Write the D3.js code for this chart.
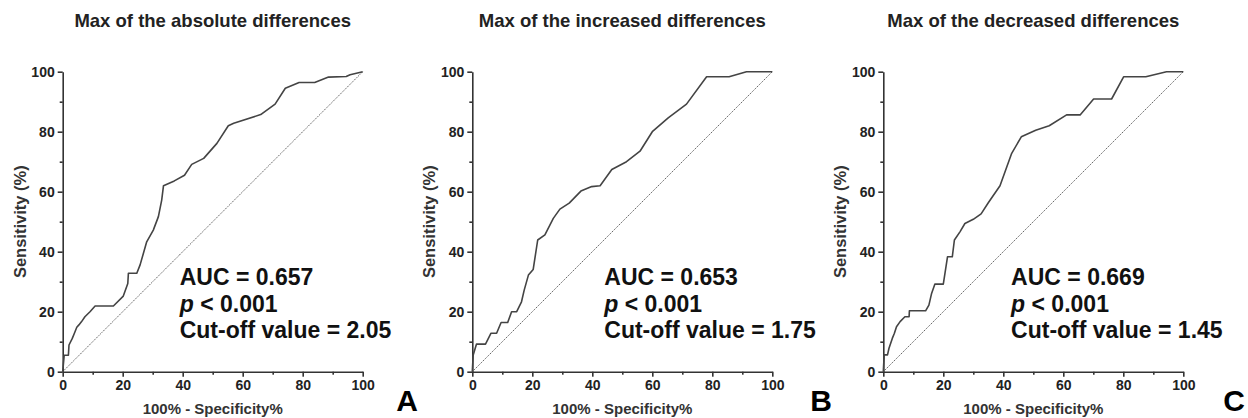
<!DOCTYPE html>
<html>
<head>
<meta charset="utf-8">
<script src="https://cdn.jsdelivr.net/npm/d3@7"></script>
<style>
  body { margin: 0; background: #ffffff; }
  text { font-family: "Liberation Sans", Arial, sans-serif; }
</style>
</head>
<body>
<div id="chart-container"></div>
<script>
const width = 1248;
const height = 418;

// panel texts
const titles = ["Max of the absolute differences", "Max of the increased differences", "Max of the decreased differences"];
const panelLetters = ["A", "B", "C"];
const aucValues = ["0.657", "0.653", "0.669"];
const pValues = ["0.001", "0.001", "0.001"];
const cutoffValues = ["2.05", "1.75", "1.45"];
const majorTicks = [0, 20, 40, 60, 80, 100];
const minorTicks = [10, 30, 50, 70, 90];

// ROC curves: [100% - specificity, sensitivity]
const rocA = [[0, 0], [0.5, 5.5], [1.9, 5.5], [2.1, 8.9], [3.2, 11.1], [3.9, 12.8], [4.7, 14.8], [5.4, 15.6],
  [6.3, 16.7], [7.4, 18.3], [9.1, 20], [10.8, 21.9], [16.9, 21.9], [20.2, 25.2], [21.7, 29.4], [21.9, 32.8],
  [24.7, 32.8], [25.8, 35.6], [28, 43.3], [30.2, 47.2], [31.9, 51.7], [33, 57.2], [33.6, 62], [37.2, 63.6],
  [40.6, 65.5], [43, 69.1], [47, 71.1], [51.4, 76.1], [55.2, 82], [57, 82.8], [66, 85.7], [70.8, 89.2],
  [74.2, 94.5], [78.8, 96.4], [84, 96.4], [88.6, 98.2], [94.5, 98.4], [95.8, 99], [100, 100]];

const rocB = [[0, 0], [0.3, 5.6], [1.4, 9.2], [4.4, 9.2], [6.2, 12.8], [8.1, 12.8], [9.6, 16.4], [11.8, 16.4],
  [13.1, 20], [14.8, 20], [16.4, 23.3], [17.3, 27.2], [18.7, 32.2], [20.3, 34.1], [21.8, 43.9], [24.2, 45.6],
  [27, 51.1], [29.2, 54.2], [32.3, 56.2], [36.2, 60.2], [39.8, 61.7], [42.6, 62], [46.5, 67.4], [51.4, 70],
  [55.9, 73.5], [60, 80], [65.3, 84.6], [71.4, 89.2], [78.1, 98.3], [85.6, 98.3], [91.4, 100], [100, 100]];

const rocC = [[0, 0], [0.3, 5.6], [1.4, 5.6], [1.9, 7.8], [3, 11.1], [3.7, 12.8], [4.4, 15], [5.6, 16.7],
  [7.2, 18.3], [8.6, 18.3], [8.7, 20.3], [14.1, 20.3], [15.2, 22.2], [16.1, 26.1], [17.2, 29.2], [20, 29.2],
  [21.4, 38.3], [23, 38.3], [23.7, 43.9], [25.6, 46.7], [27.2, 49.4], [30, 50.8], [32.6, 52.6], [35, 56.3],
  [38.9, 62], [42.8, 72.8], [46, 78.3], [50.8, 80.5], [55.3, 82], [61.1, 85.6], [65.6, 85.6], [70.1, 90.9],
  [76.1, 90.9], [80.1, 98.3], [87.5, 98.3], [94.4, 100], [100, 100]];

const curves = [rocA, rocB, rocC];

// layout
const panelLeft = [62.7, 472.3, 883.3];
const plotTop = 71.7;
const plotSize = 300;
const statsX = [39, 44, 42.6];
const letterX = [407, 821, 1234];

const svg = d3.select("#chart-container")
    .append("svg")
    .attr("width", width)
    .attr("height", height)
    .style("background-color", "#ffffff");

function drawPanel(i) {
    const g = svg.append("g")
        .attr("transform", `translate(${panelLeft[i]}, ${plotTop})`);

    const x = d3.scaleLinear().domain([0, 100]).range([0, plotSize]);
    const y = d3.scaleLinear().domain([0, 100]).range([plotSize, 0]);

    // minor ticks first, main axis on top
    g.append("g")
        .attr("transform", `translate(0, ${plotSize})`)
        .call(d3.axisBottom(x).tickValues(minorTicks).tickSize(3).tickFormat(""))
        .call(a => a.select(".domain").remove());
    g.append("g")
        .call(d3.axisLeft(y).tickValues(minorTicks).tickSize(3).tickFormat(""))
        .call(a => a.select(".domain").remove());

    const xAxis = g.append("g")
        .attr("transform", `translate(0, ${plotSize})`)
        .call(d3.axisBottom(x).tickValues(majorTicks).tickSize(5).tickSizeOuter(0).tickPadding(3));
    const yAxis = g.append("g")
        .call(d3.axisLeft(y).tickValues(majorTicks).tickSize(5).tickSizeOuter(0).tickPadding(3));

    [xAxis, yAxis].forEach(a => {
        a.selectAll("path, line").attr("stroke", "#333").attr("stroke-width", 1.6);
        a.selectAll("text")
            .attr("fill", "#222")
            .style("font-size", "14px")
            .style("font-weight", "bold");
    });
    g.selectAll(".tick line").attr("stroke", "#333").attr("stroke-width", 1.6);

    // chance line
    g.append("line")
        .attr("x1", x(0)).attr("y1", y(0))
        .attr("x2", x(100)).attr("y2", y(100))
        .attr("stroke", "#555")
        .attr("stroke-width", 0.9)
        .attr("stroke-dasharray", "1.5,1");

    // ROC curve
    g.append("path")
        .datum(curves[i])
        .attr("fill", "none")
        .attr("stroke", "#444")
        .attr("stroke-width", 1.6)
        .attr("stroke-linejoin", "round")
        .attr("d", d3.line().x(d => x(d[0])).y(d => y(d[1])));

    // title
    svg.append("text")
        .attr("x", panelLeft[i] + plotSize / 2)
        .attr("y", 27)
        .attr("text-anchor", "middle")
        .attr("fill", "#222")
        .style("font-size", "18.5px")
        .style("font-weight", "bold")
        .text(titles[i]);

    // axis titles
    g.append("text")
        .attr("x", plotSize / 2)
        .attr("y", plotSize + 42)
        .attr("text-anchor", "middle")
        .attr("fill", "#333")
        .style("font-size", "15px")
        .style("font-weight", "bold")
        .text("100% - Specificity%");

    g.append("text")
        .attr("transform", `translate(-37, ${plotSize / 2}) rotate(-90)`)
        .attr("text-anchor", "middle")
        .attr("fill", "#333")
        .style("font-size", "16.5px")
        .style("font-weight", "bold")
        .text("Sensitivity (%)");

    // statistics
    const stats = g.append("text")
        .attr("x", x(statsX[i]))
        .attr("fill", "#111")
        .style("font-size", "23px")
        .style("font-weight", "bold");
    stats.append("tspan").attr("x", x(statsX[i])).attr("y", 213).text("AUC = " + aucValues[i]);
    const pLine = stats.append("tspan").attr("x", x(statsX[i])).attr("y", 240);
    pLine.append("tspan").style("font-style", "italic").text("p");
    pLine.append("tspan").text(" < " + pValues[i]);
    stats.append("tspan").attr("x", x(statsX[i])).attr("y", 266.5).text("Cut-off value = " + cutoffValues[i]);

    // panel letter
    svg.append("text")
        .attr("x", letterX[i])
        .attr("y", 411)
        .attr("text-anchor", "middle")
        .attr("fill", "#000")
        .style("font-size", "30px")
        .style("font-weight", "bold")
        .text(panelLetters[i]);
}

[0, 1, 2].forEach(drawPanel);
</script>
</body>
</html>
